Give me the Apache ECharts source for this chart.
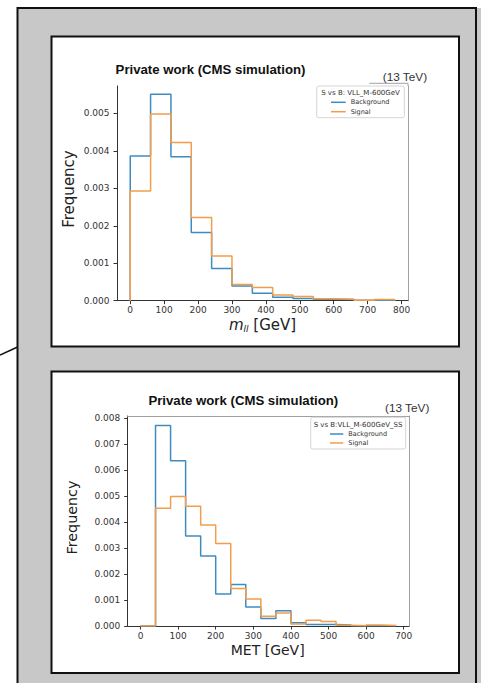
<!DOCTYPE html>
<html>
<head>
<meta charset="utf-8">
<script src="https://cdn.jsdelivr.net/npm/echarts@6/dist/echarts.min.js"></script>
<style>
html,body{margin:0;padding:0;background:#fff;}
#chart{width:481px;height:683px;}
</style>
</head>
<body>
<div id="chart"></div>
<script>
// ---- data ----
const mllEdges = [0, 60, 120, 180, 240, 300, 360, 420, 480, 540, 600, 660, 720, 780];
const mllBackground = [0.00386, 0.00551, 0.00384, 0.00182, 0.00086, 0.00039, 0.00020, 0.00009, 0.00006, 0.00004, 0.00003, 0.00001, 0.00001];
const mllSignal = [0.00293, 0.00498, 0.00422, 0.00222, 0.00119, 0.00043, 0.00035, 0.00015, 0.00011, 0.00005, 0.00004, 0.00001, 0.00003];
const mllTicksX = [0, 100, 200, 300, 400, 500, 600, 700, 800];
const mllTicksY = [0, 0.001, 0.002, 0.003, 0.004, 0.005];

const metEdges = [0, 40, 80, 120, 160, 200, 240, 280, 320, 360, 400, 440, 480, 520, 560, 600, 640, 680];
const metBackground = [0, 0.00772, 0.00637, 0.00347, 0.00270, 0.00123, 0.00160, 0.00073, 0.00029, 0.00059, 0.00013, 0.00006, 0.00006, 0.00004, 0.00001, 0.00001, 0.00001];
const metSignal = [0, 0.00454, 0.00499, 0.00461, 0.00389, 0.00318, 0.00144, 0.00104, 0.00038, 0.00050, 0.00008, 0.00022, 0.00017, 0.00003, 0.00001, 0.00004, 0.00002];
const metTicksX = [0, 100, 200, 300, 400, 500, 600, 700];
const metTicksY = [0, 0.001, 0.002, 0.003, 0.004, 0.005, 0.006, 0.007, 0.008];

const seriesNames = ['Background', 'Signal'];
const titleText = 'Private work (CMS simulation)';
const energyText = '(13 TeV)';
const legendTitle1 = 'S vs B: VLL_M-600GeV';
const legendTitle2 = 'S vs B:VLL_M-600GeV_SS';

// ---- helpers ----
const BLUE = '#3f8bc0';
const ORANGE = '#f29d4b';
const TICK = '#333';
const FONT = 'DejaVu Sans';

function stepData(edges, vals) {
  const d = [[edges[0], 0]];
  vals.forEach((v, i) => d.push([edges[i], v]));
  d.push([edges[edges.length - 1], 0]);
  return d;
}
function xAxisCfg(grid, min, max, ticks) {
  return {
    type: 'value', gridIndex: grid, min: min, max: max, position: 'bottom',
    axisLine: {show: true, onZero: false, lineStyle: {color: '#333', width: 1}},
    axisTick: {show: true, customValues: ticks, length: 3.5, lineStyle: {color: TICK, width: 1}},
    axisLabel: {show: true, customValues: ticks, margin: 5, fontSize: 9, fontFamily: FONT, color: '#333'},
    splitLine: {show: false}
  };
}
function yAxisCfg(grid, min, max, ticks) {
  return {
    type: 'value', gridIndex: grid, min: min, max: max, position: 'left',
    axisLine: {show: true, onZero: false, lineStyle: {color: '#333', width: 1}},
    axisTick: {show: true, customValues: ticks, length: 3.5, lineStyle: {color: TICK, width: 1}},
    axisLabel: {show: true, customValues: ticks, margin: 7.5, fontSize: 9, fontFamily: FONT, color: '#333',
      formatter: v => v.toFixed(3)},
    splitLine: {show: false}
  };
}
function frameAxis(grid, pos) {
  return {
    type: 'value', gridIndex: grid, position: pos, min: 0, max: 1,
    axisLine: {show: true, onZero: false, lineStyle: {color: '#a0a0a0', width: 1}},
    axisTick: {show: false}, axisLabel: {show: false}, splitLine: {show: false}
  };
}
function lineSeries(name, color, xi, yi, data) {
  return {
    name: name, type: 'line', step: 'end', xAxisIndex: xi, yAxisIndex: yi,
    data: data, symbol: 'none', showSymbol: false, animation: false,
    lineStyle: {color: color, width: 1.5}, itemStyle: {color: color}, z: 3
  };
}
function legendCfg(left, top, w, gap) {
  return {
    data: seriesNames, orient: 'vertical', left: left, top: top, itemWidth: w, itemHeight: 1.5, itemGap: gap,
    padding: 0, selectedMode: false, z: 6, icon: 'rect',
    textStyle: {fontSize: 6.5, fontFamily: FONT, color: '#333', lineHeight: 8}
  };
}

const chart = echarts.init(document.getElementById('chart'), null, {renderer: 'svg'});

const option = {
  backgroundColor: '#ffffff',
  animation: false,
  grid: [
    {left: 117, top: 86, width: 291, height: 214.7, containLabel: false},
    {left: 127.7, top: 416, width: 281.3, height: 210, containLabel: false}
  ],
  xAxis: [
    xAxisCfg(0, -39, 819, mllTicksX),
    xAxisCfg(1, -34, 714, metTicksX),
    frameAxis(1, 'top')
  ],
  yAxis: [
    yAxisCfg(0, 0, 0.00573, mllTicksY),
    yAxisCfg(1, 0, 0.00809, metTicksY),
    frameAxis(0, 'right'),
    frameAxis(1, 'right')
  ],
  legend: [
    legendCfg(331, 98.3, 14.7, 1.4),
    legendCfg(330, 430, 13.3, 1)
  ],
  series: [
    lineSeries(seriesNames[0], BLUE, 0, 0, stepData(mllEdges, mllBackground)),
    lineSeries(seriesNames[1], ORANGE, 0, 0, stepData(mllEdges, mllSignal)),
    lineSeries(seriesNames[0], BLUE, 1, 1, stepData(metEdges, metBackground)),
    lineSeries(seriesNames[1], ORANGE, 1, 1, stepData(metEdges, metSignal))
  ],
  graphic: [
    // outer gray panel
    {type: 'rect', z: -10, silent: true, shape: {x: 17, y: 8, width: 470, height: 690}, style: {fill: '#c8c8c8'}},
    {type: 'polyline', z: -9, silent: true, shape: {points: [[17.5, 690], [17.5, 8], [476, 8], [476, 690]]},
      style: {stroke: '#111', lineWidth: 2, fill: null}},
    {type: 'line', z: -9, silent: true, shape: {x1: 0, y1: 355, x2: 17, y2: 347.3}, style: {stroke: '#111', lineWidth: 1.5}},
    // white chart boxes
    {type: 'rect', z: -8, silent: true, shape: {x: 51.5, y: 36.5, width: 407.5, height: 310}, style: {fill: '#fff', stroke: '#111', lineWidth: 2}},
    {type: 'rect', z: -8, silent: true, shape: {x: 51.5, y: 371.5, width: 407.5, height: 301.5}, style: {fill: '#fff', stroke: '#111', lineWidth: 2}},
    // top segment near (13 TeV) in chart 1
    {type: 'polyline', z: 1, silent: true, shape: {points: [[369.3, 83.3], [408, 83.3], [408, 86]]},
      style: {stroke: '#a0a0a0', lineWidth: 1, fill: null}},
    // titles
    {type: 'text', z: 5, x: 210.5, y: 69.3, style: {text: titleText, align: 'center', verticalAlign: 'middle',
      font: 'bold 13.2px "Liberation Sans", Arial, sans-serif', fill: '#111'}},
    {type: 'text', z: 5, x: 243.3, y: 400.7, style: {text: titleText, align: 'center', verticalAlign: 'middle',
      font: 'bold 13.2px "Liberation Sans", Arial, sans-serif', fill: '#111'}},
    {type: 'text', z: 5, x: 382.7, y: 76.7, style: {text: energyText, align: 'left', verticalAlign: 'middle',
      font: '11.8px "Liberation Sans", Arial, sans-serif', fill: '#333'}},
    {type: 'text', z: 5, x: 385, y: 408.3, style: {text: energyText, align: 'left', verticalAlign: 'middle',
      font: '11.8px "Liberation Sans", Arial, sans-serif', fill: '#333'}},
    // axis titles
    {type: 'text', z: 5, x: 69, y: 189, rotation: Math.PI / 2, style: {text: 'Frequency', align: 'center', verticalAlign: 'middle',
      font: '15px "DejaVu Sans"', fill: '#222'}},
    {type: 'text', z: 5, x: 71.7, y: 517.5, rotation: Math.PI / 2, style: {text: 'Frequency', align: 'center', verticalAlign: 'middle',
      font: '14.3px "DejaVu Sans"', fill: '#222'}},
    {type: 'text', z: 5, x: 262.5, y: 325, style: {text: '{i|m}{s|ll}{n| [GeV]}', align: 'center', verticalAlign: 'middle',
      rich: {
        i: {fontFamily: FONT, fontStyle: 'italic', fontSize: 15, fill: '#222', color: '#222'},
        s: {fontFamily: FONT, fontStyle: 'italic', fontSize: 9, fill: '#222', color: '#222', padding: [7, 0, 0, 0]},
        n: {fontFamily: FONT, fontSize: 15, fill: '#222', color: '#222'}
      }}},
    {type: 'text', z: 5, x: 267.7, y: 650, style: {text: 'MET [GeV]', align: 'center', verticalAlign: 'middle',
      font: '14px "DejaVu Sans"', fill: '#222'}},
    // legend boxes
    {type: 'rect', z: 4, silent: true, shape: {x: 316.7, y: 86, width: 87.6, height: 31.7, r: 2},
      style: {fill: 'rgba(255,255,255,0.85)', stroke: '#d4d4d4', lineWidth: 1}},
    {type: 'text', z: 5, x: 360.5, y: 93.3, style: {text: legendTitle1, align: 'center', verticalAlign: 'middle',
      font: '7px "DejaVu Sans"', fill: '#333'}},
    {type: 'rect', z: 4, silent: true, shape: {x: 310.7, y: 417.3, width: 95, height: 31.7, r: 2},
      style: {fill: 'rgba(255,255,255,0.85)', stroke: '#d4d4d4', lineWidth: 1}},
    {type: 'text', z: 5, x: 358, y: 425.3, style: {text: legendTitle2, align: 'center', verticalAlign: 'middle',
      font: '7px "DejaVu Sans"', fill: '#333'}}
  ]
};
chart.setOption(option);
</script>
</body>
</html>
